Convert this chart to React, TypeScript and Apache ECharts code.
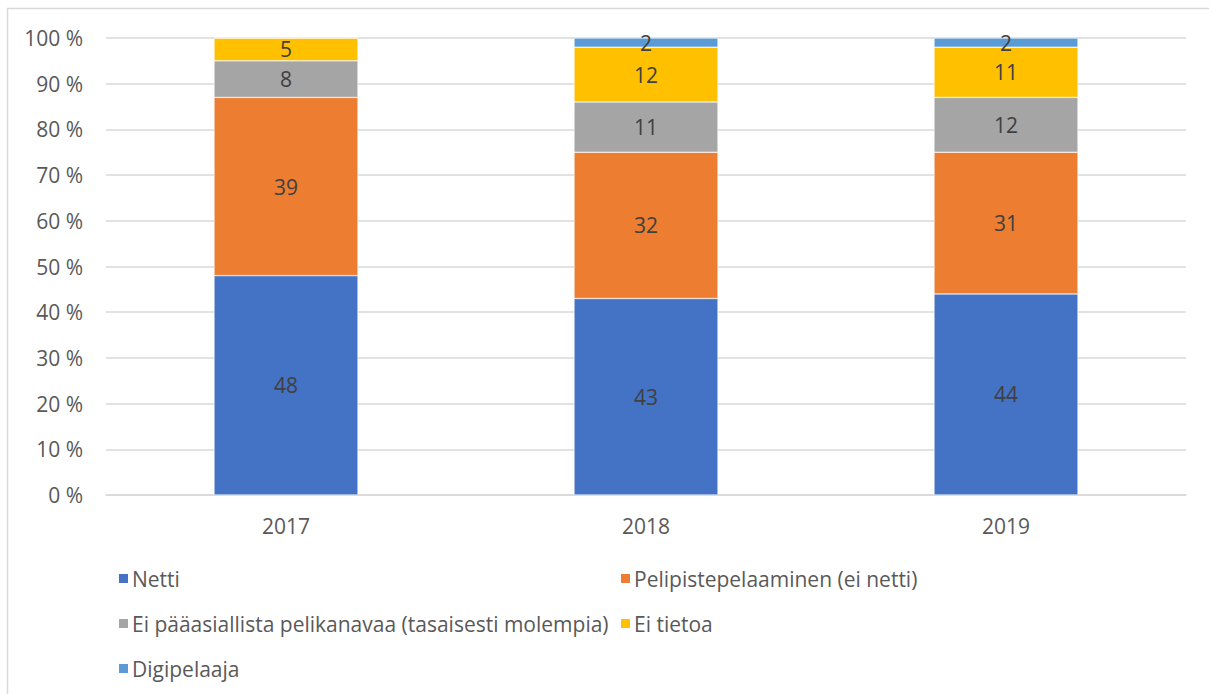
import React, { useEffect, useRef } from "react";
import * as echarts from "echarts";

const categories = ["2017", "2018", "2019"];
const seriesNames = [
  "Netti",
  "Pelipistepelaaminen (ei netti)",
  "Ei pääasiallista pelikanavaa (tasaisesti molempia)",
  "Ei tietoa",
  "Digipelaaja",
];
const netti = [48, 43, 44];
const pelipiste = [39, 32, 31];
const eiPaaasiallista = [8, 11, 12];
const eiTietoa = [5, 12, 11];
const digipelaaja = [0, 2, 2];
const colors = ["#4472C4", "#ED7D31", "#A5A5A5", "#FFC000", "#5B9BD5"];
const yTicks = [0, 10, 20, 30, 40, 50, 60, 70, 80, 90, 100];

const FONT = "Open Sans";
const FS = 21;

export default function App() {
  const ref = useRef<HTMLDivElement>(null);
  useEffect(() => {
    if (!ref.current) return;
    const chart = echarts.init(ref.current, null, { renderer: "svg" });
    const values = [netti, pelipiste, eiPaaasiallista, eiTietoa, digipelaaja];
    const legendText = { color: "#595959", fontSize: FS, fontFamily: FONT, padding: [0, 0, 0, -2] };
    chart.setOption({
      animation: false,
      textStyle: { fontFamily: FONT },
      graphic: [
        {
          type: "rect",
          shape: { x: 7.5, y: 8.5, width: 1400, height: 900 },
          style: { fill: "none", stroke: "#d9d9d9", lineWidth: 1.5 },
          silent: true,
          z: -10,
        },
      ],
      grid: { left: 106, right: 23, top: 38, bottom: 199, containLabel: false },
      legend: [
        {
          data: [seriesNames[0], seriesNames[2], seriesNames[4]],
          orient: "vertical",
          left: 112,
          top: 563,
          itemWidth: 11,
          itemHeight: 11,
          itemGap: 24,
          icon: "rect",
          textStyle: legendText,
        },
        {
          data: [seriesNames[1], seriesNames[3]],
          orient: "vertical",
          left: 614,
          top: 563,
          itemWidth: 11,
          itemHeight: 11,
          itemGap: 24,
          icon: "rect",
          textStyle: legendText,
        },
      ],
      xAxis: {
        type: "category",
        data: categories,
        axisLine: { show: true, lineStyle: { color: "#d9d9d9", width: 1.5 } },
        axisTick: { show: false },
        axisLabel: { color: "#595959", fontSize: FS, margin: 20, fontFamily: FONT },
      },
      yAxis: {
        type: "value",
        min: yTicks[0],
        max: yTicks[yTicks.length - 1],
        interval: 10,
        axisLine: { show: false },
        axisTick: { show: false },
        splitLine: { lineStyle: { color: "#d9d9d9", width: 1.5 } },
        axisLabel: {
          color: "#595959",
          fontSize: FS,
          margin: 23,
          fontFamily: FONT,
          formatter: (v: number) => `${v} %`,
        },
      },
      series: seriesNames.map((name, i) => ({
        name,
        type: "bar",
        stack: "total",
        barWidth: "40%",
        itemStyle: { color: colors[i], borderColor: "#ffffff", borderWidth: 0.5 },
        label: {
          show: true,
          position: "inside",
          color: "#404040",
          fontSize: FS,
          fontFamily: FONT,
          formatter: (p: any) => (p.value ? String(p.value) : ""),
        },
        data: values[i],
      })),
    });
    return () => chart.dispose();
  }, []);
  return (
    <div
      ref={ref}
      style={{ position: "fixed", left: 0, top: 0, width: 1209, height: 694, background: "#fff" }}
    />
  );
}
